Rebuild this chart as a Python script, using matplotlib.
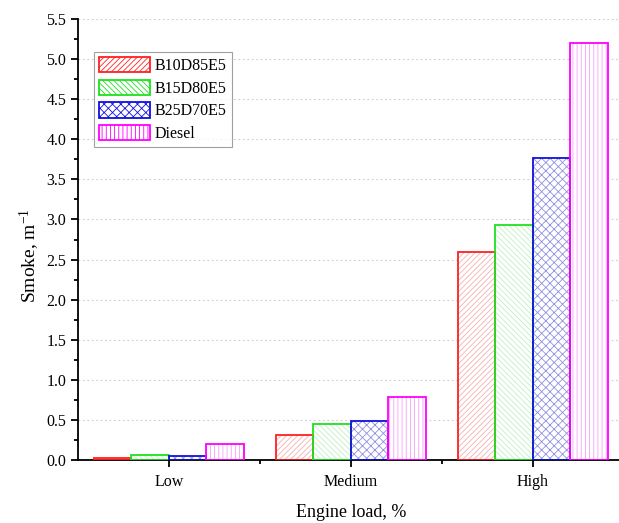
import numpy as np
import matplotlib
matplotlib.use("Agg")
import matplotlib.pyplot as plt

# smoke opacity, per engine load
loads = ["Low", "Medium", "High"]
fuels = ["B10D85E5", "B15D80E5", "B25D70E5", "Diesel"]
b10d85e5 = [0.02, 0.31, 2.59]
b15d80e5 = [0.06, 0.45, 2.93]
b25d70e5 = [0.05, 0.49, 3.77]
diesel = [0.20, 0.79, 5.20]

series = [b10d85e5, b15d80e5, b25d70e5, diesel]
edge_colors = ["#ff2020", "#20e020", "#1010e0", "#ff00ff"]
hatch_colors = ["#f4b0b0", "#c0f0c0", "#9090e0", "#f8a0f8"]
hatches = ["//////", "\\\\\\\\\\\\", "xxxx", "||||"]

plt.rcParams["font.family"] = ["Liberation Serif", "DejaVu Serif"]
plt.rcParams["mathtext.fontset"] = "custom"
plt.rcParams["mathtext.rm"] = "Liberation Serif"
plt.rcParams["mathtext.it"] = "Liberation Serif:italic"
plt.rcParams["hatch.linewidth"] = 0.6

fig = plt.figure(figsize=(6.19, 5.23), dpi=100)
ax = fig.add_axes([0.126, 0.1205, 0.882, 0.843])

x = np.arange(len(loads))
w = 0.206
offsets = (np.arange(len(fuels)) - 1.5) * w

for vals, off, ec, hc, h, name in zip(series, offsets, edge_colors, hatch_colors, hatches, fuels):
    # hatch in a lighter shade, outline in full colour
    ax.bar(x + off, vals, w, color="white", edgecolor=hc, hatch=h, linewidth=0, zorder=2)
    ax.bar(x + off, vals, w, fill=False, edgecolor=ec, linewidth=1.3, zorder=3)
    # proxy for legend
    ax.bar([np.nan], [np.nan], color="white", edgecolor=ec, hatch=h, linewidth=1.3, label=name)

ax.set_xlim(-0.5, 2.5)
ax.set_ylim(0, 5.5)
ax.set_yticks(np.arange(0, 5.51, 0.5))
ax.set_yticks(np.arange(0.25, 5.5, 0.5), minor=True)
ax.set_xticks(x)
ax.set_xticklabels(loads)
ax.set_xticks([0.5, 1.5], minor=True)

ax.grid(axis="y", linestyle=(0, (1.5, 2.5)), color="#cccccc", linewidth=0.8, zorder=0)
ax.set_axisbelow(True)

for s in ["top", "right"]:
    ax.spines[s].set_visible(False)
ax.spines["left"].set_linewidth(1.3)
ax.spines["bottom"].set_linewidth(1.3)
ax.tick_params(axis="both", which="major", direction="out", length=5, width=1.3, labelsize=11.5)
ax.tick_params(axis="both", which="minor", direction="out", length=3, width=1.3)
ax.tick_params(axis="x", pad=5)

ax.set_ylabel("Smoke, m$^{-1}$", fontsize=14)
ax.yaxis.set_label_coords(-0.066, 0.463)
ax.set_xlabel("Engine load, %", fontsize=13, labelpad=10)

leg = ax.legend(loc="upper left", bbox_to_anchor=(0.03, 0.925), fontsize=11.5,
                frameon=True, fancybox=False, edgecolor="#888888",
                handlelength=3.2, handleheight=1.1, borderpad=0.3,
                labelspacing=0.35, handletextpad=0.3, borderaxespad=0)
leg.get_frame().set_linewidth(0.8)

fig.savefig("out.png", dpi=100)
